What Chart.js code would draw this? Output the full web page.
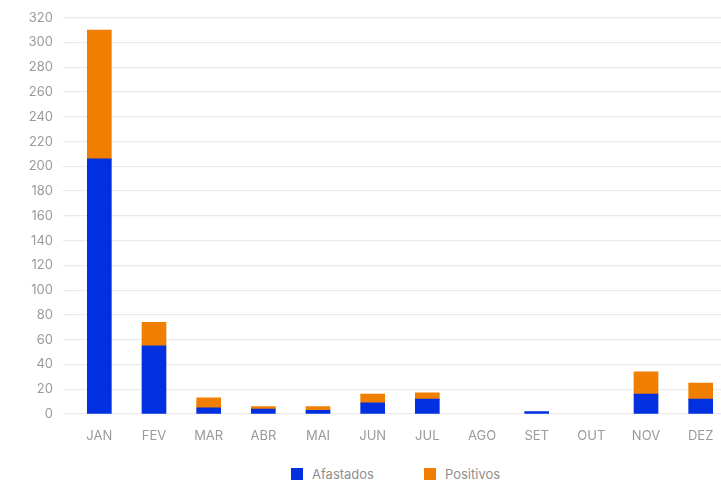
<!DOCTYPE html>
<html>
<head>
<meta charset="utf-8">
<script src="https://cdn.jsdelivr.net/npm/chart.js@4.4.1/dist/chart.umd.min.js"></script>
<style>
  body { margin: 0; overflow: hidden; background: #fff; font-family: Inter, sans-serif; }
  #wrap { position: absolute; left: 0; top: 0; width: 728px; height: 446px; }
  #legend { position: absolute; top: 466px; left: 291px; display: flex; align-items: center; font-size: 13px; color: #8f8f8f; }
  .item { display: flex; align-items: center; margin-right: 50px; }
  .box { width: 12px; height: 12px; margin-right: 9px; }
</style>
</head>
<body>
<div id="wrap"><canvas id="chart"></canvas></div>
<div id="legend"></div>
<script>
// data (null = no bar that month)
const months = ["JAN", "FEV", "MAR", "ABR", "MAI", "JUN", "JUL", "AGO", "SET", "OUT", "NOV", "DEZ"];
const afastados = [206, 55, 5, 4, 3, 9, 12, null, 2, null, 16, 12];
const positivos = [104, 19, 8, 2, 3, 7, 5, null, null, null, 18, 13];
const yTicks = { min: 0, max: 320, step: 20 };

const blue = "#0030e0";
const orange = "#f07e00";
const gridColor = "#ebebeb";
const textColor = "#9a9a9a";

const chart = new Chart(document.getElementById("chart"), {
    type: "bar",
    data: {
        labels: months,
        datasets: [
            { label: "Afastados", data: afastados, backgroundColor: blue, barThickness: 24 },
            { label: "Positivos", data: positivos, backgroundColor: orange, barThickness: 24 }
        ]
    },
    options: {
        responsive: true,
        maintainAspectRatio: false,
        animation: false,
        layout: { padding: { top: 16, right: 0, bottom: 0, left: 0 } },
        plugins: { legend: { display: false }, tooltip: { enabled: false } },
        scales: {
            x: {
                stacked: true,
                grid: { display: false, drawTicks: false },
                border: { display: false },
                ticks: { color: textColor, font: { family: "Inter", size: 13 }, padding: 14 },
                afterFit: s => { s.height = 32; }
            },
            y: {
                stacked: true,
                min: yTicks.min,
                max: yTicks.max,
                grid: { color: gridColor, tickColor: gridColor, tickLength: 9, lineWidth: 1.3 },
                border: { display: false },
                ticks: { stepSize: yTicks.step, color: textColor, font: { family: "Inter", size: 13 }, padding: 10 },
                afterFit: s => { s.width = 72; }
            }
        }
    }
});

// legend below the chart
const legend = document.getElementById("legend");
chart.data.datasets.forEach(ds => {
    const item = document.createElement("div");
    item.className = "item";
    item.innerHTML = `<span class="box" style="background:${ds.backgroundColor}"></span>${ds.label}`;
    legend.appendChild(item);
});
</script>
</body>
</html>
